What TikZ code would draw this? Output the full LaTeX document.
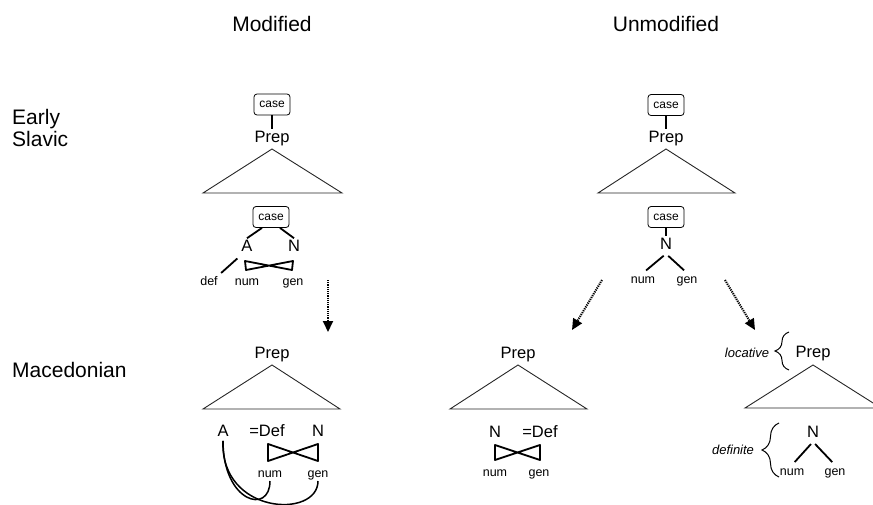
\documentclass[tikz,border=0pt]{standalone}
\usepackage{fontspec}
\setmainfont{Liberation Sans}
\usetikzlibrary{arrows.meta,decorations.pathreplacing,calc}
\begin{document}
\begin{tikzpicture}[x=1pt,y=-1pt,
  big/.style={font=\fontsize{21}{22}\selectfont, inner sep=0pt},
  cat/.style={font=\fontsize{16.5}{19}\selectfont, inner sep=1pt, text height=11.8pt, text depth=3.4pt},
  feat/.style={font=\fontsize{12.5}{15}\selectfont, inner sep=1pt, text height=9pt, text depth=2.6pt},
  casebox/.style={draw, rounded corners=3pt, line width=0.8pt, font=\fontsize{12}{14}\selectfont, minimum width=36pt, minimum height=21pt, inner sep=1pt},
  tri/.style={draw=black!85, line width=0.9pt, line join=miter},
  br/.style={line width=1.8pt},
  cv/.style={line width=1.5pt},
  dotarr/.style={line width=2pt, dash pattern=on 1.2pt off 1pt, -{Triangle[length=11pt,width=10pt]}},
  brc/.style={decorate, decoration={brace, amplitude=14pt}, line width=1pt},
  ital/.style={font=\fontsize{13}{15}\selectfont\itshape, inner sep=1pt}
]
\path[use as bounding box] (0,0) rectangle (873,504);

% titles and row labels
\node[big] (tmod) at (272,24) {Modified};
\node[big] (tunm) at (666,24) {Unmodified};
\node[big, anchor=west, align=left] (es) at (12,128) {Early\\Slavic};
\node[big, anchor=west] (mac) at (12,370) {Macedonian};

% ---- Early Slavic, modified
\node[casebox] (c1) at (272,104.5) {case};
\node[cat] (P1) at (272,138) {Prep};
\draw[br] (c1) -- (P1);
\draw[tri] (272,149) -- (203,193) -- (342,193) -- cycle;
\node[casebox] (c2) at (271,217) {case};
\node[cat] (A1) at (247,247) {A};
\node[cat] (N1) at (294,247) {N};
\node[feat] (def1) at (209,282) {def};
\node[feat] (num1) at (247,282) {num};
\node[feat] (gen1) at (293,282) {gen};
\draw[br] ($(c2.south)+(-9,0)$) -- (A1.north);
\draw[br] ($(c2.south)+(9,0)$) -- (N1.north);
\draw[br, shorten <=4pt, shorten >=3pt] (A1.south west) -- (def1.north east);
\coordinate (lt1) at (245,261);
\coordinate (rt1) at (293,261);
\coordinate (lb1) at (246,270);
\coordinate (rb1) at (292,270);
\draw[br, line join=round] (lt1) -- (rb1) -- (rt1) -- (lb1) -- cycle;
\coordinate (a1s) at (328,280);
\coordinate (a1e) at (328,332);
\draw[dotarr] (a1s) -- (a1e);

% ---- Early Slavic, unmodified
\node[casebox] (c3) at (666,105) {case};
\node[cat] (P3) at (666,138) {Prep};
\draw[br] (c3) -- (P3);
\draw[tri] (666,149) -- (598,193) -- (735,193) -- cycle;
\node[casebox] (c4) at (666,217) {case};
\node[cat] (N3) at (666,245) {N};
\node[feat] (num3) at (643,280) {num};
\node[feat] (gen3) at (687,280) {gen};
\draw[br] (c4) -- (N3);
\draw[br, shorten <=3pt, shorten >=4pt] (N3.south) -- (num3.north);
\draw[br, shorten <=3pt, shorten >=4pt] (N3.south) -- (gen3.north);
\coordinate (a2s) at (602,280);
\coordinate (a2e) at (572,330);
\draw[dotarr] (a2s) -- (a2e);
\coordinate (a3s) at (725,280);
\coordinate (a3e) at (755,330);
\draw[dotarr] (a3s) -- (a3e);

% ---- Macedonian, modified
\node[cat] (P2) at (272,354) {Prep};
\draw[tri] (272,365) -- (203,409) -- (340,409) -- cycle;
\node[cat] (A2) at (223,432) {A};
\node[cat] (D2) at (267,432) {=Def};
\node[cat] (N2) at (318,432) {N};
\node[feat] (num2) at (270,474) {num};
\node[feat] (gen2) at (318,474) {gen};
\coordinate (lt2) at (268,444);
\coordinate (lb2) at (268,461);
\coordinate (rt2) at (318,444);
\coordinate (rb2) at (318,461);
\draw[br, line join=round] (lt2) -- (rb2) -- (rt2) -- (lb2) -- cycle;
\draw[cv] (A2.south) .. controls +(0,62) and +(0,34) .. (num2.south);
\draw[cv] (A2.south) .. controls +(-3,74) and +(0,38) .. (gen2.south);

% ---- Macedonian, unmodified (plain)
\node[cat] (P4) at (518,354) {Prep};
\draw[tri] (518,365) -- (450,409) -- (587,409) -- cycle;
\node[cat] (N4) at (495,433) {N};
\node[cat] (D4) at (540,433) {=Def};
\node[feat] (num4) at (495,473) {num};
\node[feat] (gen4) at (539,473) {gen};
\coordinate (lt4) at (495,445);
\coordinate (lb4) at (495,460);
\coordinate (rt4) at (540,445);
\coordinate (rb4) at (540,460);
\draw[br, line join=round] (lt4) -- (rb4) -- (rt4) -- (lb4) -- cycle;

% ---- Macedonian, unmodified (locative / definite)
\node[ital] (loc) at (747,353) {locative};
\draw[brc] (789,370) -- (789,332);
\node[cat] (P5) at (813,353) {Prep};
\begin{scope}
\clip (0,0) rectangle (873,504);
\draw[tri] (813,365) -- (745,408) -- (881,408) -- cycle;
\end{scope}
\node[cat] (N5) at (813,433) {N};
\node[feat] (num5) at (792,472) {num};
\node[feat] (gen5) at (835,472) {gen};
\draw[br, shorten <=3pt, shorten >=4pt] (N5.south) -- (num5.north);
\draw[br, shorten <=3pt, shorten >=4pt] (N5.south) -- (gen5.north);
\node[ital] (defn) at (733,450) {definite};
\draw[brc, decoration={brace, amplitude=17pt}] (779,477) -- (779,423);
\end{tikzpicture}
\end{document}
